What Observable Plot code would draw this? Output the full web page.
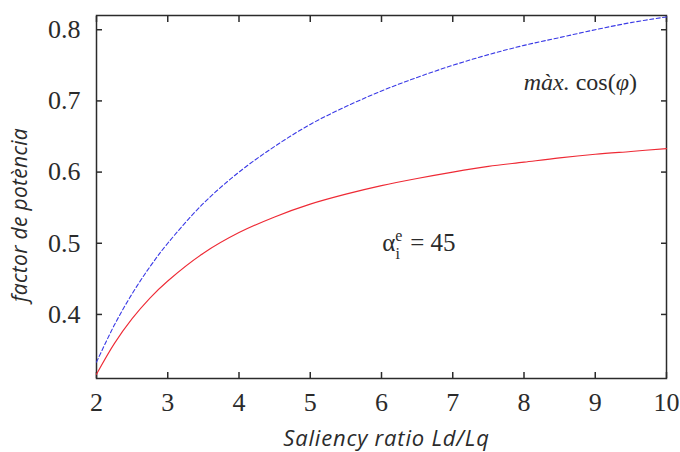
<!DOCTYPE html>
<html>
<head>
<meta charset="utf-8">
<script src="https://cdn.jsdelivr.net/npm/d3@7"></script>
<script src="https://cdn.jsdelivr.net/npm/@observablehq/plot@0.6"></script>
<style>
  body { margin: 0; background: #fff; }
  #chart svg { display: block; }
</style>
</head>
<body>
<div id="chart"></div>
<script>
// Saliency ratio ξ = Ld/Lq
const ratio = [2, 2.25, 2.5, 2.75, 3, 3.5, 4, 4.5, 5, 5.5, 6, 6.5, 7, 7.5, 8, 8.5, 9, 9.5, 10];
// Maximum attainable power factor
const maxPF = [0.333, 0.385, 0.429, 0.467, 0.500, 0.556, 0.600, 0.636, 0.667, 0.692, 0.714, 0.733, 0.750, 0.765, 0.778, 0.789, 0.800, 0.810, 0.818];
// Power factor at current angle α = 45°
const pf45 = [0.316, 0.359, 0.394, 0.423, 0.447, 0.486, 0.515, 0.537, 0.555, 0.569, 0.581, 0.591, 0.600, 0.608, 0.614, 0.620, 0.625, 0.629, 0.633];

const xTicks = [2, 3, 4, 5, 6, 7, 8, 9, 10];
const yTicks = [0.4, 0.5, 0.6, 0.7, 0.8];

const xLabel = "Saliency ratio Ld/Lq";
const yLabel = "factor de potència";
const maxLabel = "màx. cos(φ)";
const alphaLabel = "α = 45";

const maxRows = ratio.map((r, i) => ({ratio: r, pf: maxPF[i]}));
const alphaRows = ratio.map((r, i) => ({ratio: r, pf: pf45[i]}));

const ink = "#2b2b2b";
const serif = "'Liberation Serif', 'DejaVu Serif', serif";
const sans = "'Open Sans', 'Liberation Sans', sans-serif";

const chart = Plot.plot({
  width: 680,
  height: 452,
  marginLeft: 96,
  marginRight: 14,
  marginTop: 15,
  marginBottom: 74,
  x: {domain: [2, 10]},
  y: {domain: [0.31, 0.82]},
  style: {fontSize: "26px", color: ink, background: "#fff"},
  marks: [
    Plot.frame({stroke: ink, strokeWidth: 1.5}),
    // inward ticks on all four sides, labels on bottom and left only
    Plot.axisX(xTicks, {anchor: "bottom", tickSize: -6, tickPadding: 20.5, label: null, fontSize: 26, stroke: ink, strokeWidth: 1.5}),
    Plot.axisX(xTicks, {anchor: "top", tickSize: -6, tickFormat: () => "", label: null, stroke: ink, strokeWidth: 1.5}),
    Plot.axisY(yTicks, {anchor: "left", tickSize: -6, tickPadding: 22, label: null, fontSize: 26, tickFormat: d3.format(".1f"), stroke: ink, strokeWidth: 1.5}),
    Plot.axisY(yTicks, {anchor: "right", tickSize: -6, tickFormat: () => "", label: null, stroke: ink, strokeWidth: 1.5}),
    Plot.line(alphaRows, {x: "ratio", y: "pf", stroke: "#ee2a35", strokeWidth: 1.1, curve: "catmull-rom"}),
    Plot.line(maxRows, {x: "ratio", y: "pf", stroke: "#3a3ae6", strokeWidth: 1.1, strokeDasharray: "4,2.5", curve: "catmull-rom"}),
    Plot.text([maxLabel], {x: 8.79, y: 0.7256, text: d => d, textAnchor: "middle", fontSize: 24, fill: ink}),
    Plot.text([alphaLabel], {x: 6.01, y: 0.50, text: d => d, textAnchor: "start", fontSize: 25, fill: ink}),
    Plot.text([xLabel], {frameAnchor: "bottom", textAnchor: "middle", lineAnchor: "middle", dx: 5, dy: 60, text: d => d, fontSize: 22, fill: ink}),
    Plot.text([yLabel], {frameAnchor: "left", textAnchor: "middle", lineAnchor: "middle", dx: -76, dy: 18, rotate: -90, text: d => d, fontSize: 21, fill: ink})
  ]
});

// fonts: serif for numbers and annotations, italic sans for the axis titles
const svg = d3.select(chart);
svg.selectAll("text").each(function() {
  const t = d3.select(this);
  const s = this.textContent;
  t.style("font-family", serif).style("font-variant", "normal");
  if (s === xLabel) {
    t.style("font-family", sans).style("font-style", "italic").style("letter-spacing", "0.8px");
  } else if (s === yLabel) {
    t.style("font-family", sans).style("font-style", "italic").style("letter-spacing", "0.3px");
  } else if (s === maxLabel) {
    // italic "màx." and φ
    t.text(null);
    t.append("tspan").style("font-style", "italic").text("màx.");
    t.append("tspan").text(" cos(");
    t.append("tspan").style("font-style", "italic").text("φ");
    t.append("tspan").text(")");
  } else if (s === alphaLabel) {
    // α with stacked superscript e and subscript i
    t.text(null);
    t.append("tspan").text("α");
    t.append("tspan").attr("font-size", 16).attr("dy", -10).text("e");
    t.append("tspan").attr("font-size", 16).attr("dx", -7).attr("dy", 18).text("i");
    t.append("tspan").attr("dx", 4).attr("dy", -8).text(" = 45");
  }
});

document.getElementById("chart").appendChild(chart);
</script>
</body>
</html>
